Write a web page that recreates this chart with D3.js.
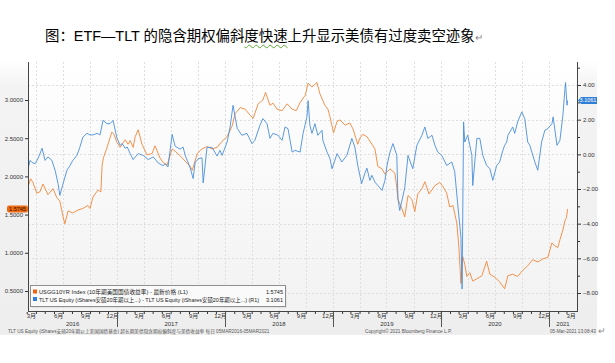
<!DOCTYPE html>
<html>
<head>
<meta charset="utf-8">
<script src="https://cdn.jsdelivr.net/npm/d3@7"></script>
<style>
  body { margin: 0; background: #fff; width: 615px; height: 363px; overflow: hidden; position: relative; }
  #title { position: absolute; left: 45px; top: 28px; white-space: nowrap; font-size: 14.4px; line-height: 17px;
           font-family: "Liberation Sans", "Noto Sans CJK SC", sans-serif; color: #000; }
  #title .wavy { text-decoration: underline wavy #5aa832; text-underline-offset: 3px; text-decoration-thickness: 1px; }
  #title .ret { color: #888; font-size: 10px; }
  svg { position: absolute; left: 0; top: 0; }
</style>
</head>
<body>
<div id="title">图：ETF—TLT 的隐含期权偏斜<span class="wavy">度快速</span>上升显示美债有过度卖空迹象<span class="ret">↵</span></div>
<svg id="chart" width="615" height="363"></svg>
<script>
// USGG10YR (left axis)
var usgDates = ["2016-03-07","2016-03-14","2016-03-22","2016-04-04","2016-04-15","2016-04-25","2016-05-12","2016-05-29",
  "2016-06-11","2016-06-21","2016-07-02","2016-07-08","2016-07-19","2016-08-04","2016-08-21","2016-09-07","2016-09-24",
  "2016-10-01","2016-10-11","2016-10-28","2016-11-07","2016-11-11","2016-11-16","2016-11-27","2016-12-14","2016-12-20",
  "2016-12-31","2017-01-11","2017-01-28","2017-02-07","2017-02-14","2017-02-24","2017-03-03","2017-03-13","2017-03-26",
  "2017-04-12","2017-04-29","2017-05-09","2017-05-26","2017-06-06","2017-06-19","2017-07-06","2017-07-16","2017-08-02",
  "2017-08-19","2017-09-05","2017-09-12","2017-09-29","2017-10-15","2017-11-01","2017-11-18","2017-12-05","2017-12-22",
  "2018-01-08","2018-01-25","2018-02-04","2018-02-21","2018-03-10","2018-03-27","2018-04-06","2018-04-23","2018-05-09",
  "2018-05-18","2018-06-02","2018-06-12","2018-06-26","2018-07-13","2018-07-30","2018-08-16","2018-08-30","2018-09-12",
  "2018-09-29","2018-10-09","2018-10-22","2018-11-08","2018-11-18","2018-12-05","2018-12-15","2018-12-22","2019-01-03",
  "2019-01-15","2019-01-25","2019-02-11","2019-02-27","2019-03-10","2019-03-26","2019-04-02","2019-04-12","2019-04-26",
  "2019-05-13","2019-05-23","2019-06-02","2019-06-16","2019-06-26","2019-07-13","2019-07-30","2019-08-05","2019-08-09",
  "2019-08-22","2019-09-01","2019-09-12","2019-09-25","2019-10-05","2019-10-15","2019-10-29","2019-11-08","2019-11-22",
  "2019-12-12","2019-12-28","2020-01-08","2020-01-21","2020-01-31","2020-02-11","2020-02-24","2020-03-02","2020-03-09",
  "2020-03-15","2020-03-22","2020-03-29","2020-04-08","2020-04-18","2020-05-02","2020-05-19","2020-06-04","2020-06-15",
  "2020-07-02","2020-07-18","2020-08-04","2020-08-15","2020-08-31","2020-09-17","2020-10-04","2020-10-21","2020-11-07",
  "2020-11-24","2020-12-11","2020-12-28","2021-01-11","2021-01-21","2021-01-31","2021-02-07","2021-02-17","2021-02-24",
  "2021-03-01","2021-03-05"];
var usgValues = [1.88,1.97,1.92,1.78,1.80,1.90,1.76,1.84,
  1.72,1.68,1.47,1.38,1.55,1.52,1.56,1.58,1.62,
  1.58,1.73,1.82,1.80,2.15,2.25,2.37,2.58,2.56,
  2.45,2.38,2.48,2.42,2.47,2.38,2.52,2.61,2.42,
  2.28,2.30,2.40,2.24,2.18,2.15,2.36,2.33,2.27,
  2.20,2.13,2.08,2.30,2.36,2.39,2.36,2.38,2.46,
  2.52,2.66,2.82,2.90,2.88,2.80,2.76,2.95,3.00,
  3.10,2.93,2.96,2.88,2.86,2.95,2.88,2.86,2.97,
  3.06,3.22,3.17,3.23,3.08,2.93,2.88,2.78,2.57,
  2.72,2.74,2.67,2.70,2.62,2.42,2.50,2.55,2.52,
  2.42,2.36,2.13,2.10,2.03,2.10,2.04,1.85,1.70,
  1.58,1.47,1.75,1.70,1.54,1.77,1.84,1.93,1.77,
  1.88,1.92,1.87,1.78,1.60,1.62,1.39,1.08,0.60,
  0.95,0.85,0.69,0.74,0.63,0.66,0.70,0.89,0.72,
  0.68,0.62,0.53,0.70,0.72,0.69,0.77,0.83,0.91,
  0.88,0.92,0.94,1.13,1.09,1.07,1.17,1.30,1.42,
  1.46,1.5745];

// TLT implied skew (right axis)
var tltDates = ["2016-03-07","2016-03-12","2016-03-22","2016-03-29","2016-04-08","2016-04-22","2016-05-02","2016-05-12",
  "2016-05-25","2016-06-05","2016-06-15","2016-06-21","2016-07-02","2016-07-15","2016-07-25","2016-08-04","2016-08-18",
  "2016-08-28","2016-09-07","2016-09-21","2016-10-01","2016-10-11","2016-10-25","2016-11-04","2016-11-14","2016-11-27",
  "2016-12-08","2016-12-18","2016-12-31","2017-01-11","2017-01-18","2017-01-28","2017-02-04","2017-02-14","2017-02-24",
  "2017-03-13","2017-03-30","2017-04-16","2017-05-03","2017-05-20","2017-06-06","2017-06-12","2017-06-22","2017-07-06",
  "2017-07-16","2017-08-02","2017-08-12","2017-08-19","2017-08-26","2017-09-05","2017-09-12","2017-09-15","2017-09-22",
  "2017-09-29","2017-10-02","2017-10-15","2017-10-19","2017-11-01","2017-11-18","2017-12-05","2017-12-15","2017-12-22",
  "2018-01-08","2018-01-18","2018-01-28","2018-02-11","2018-02-27","2018-03-16","2018-04-02","2018-04-12","2018-04-29",
  "2018-05-09","2018-05-23","2018-06-02","2018-06-12","2018-06-29","2018-07-13","2018-07-23","2018-08-02","2018-08-16",
  "2018-08-26","2018-09-12","2018-09-22","2018-10-05","2018-10-09","2018-10-15","2018-10-22","2018-11-01","2018-11-11",
  "2018-11-25","2018-11-28","2018-12-12","2018-12-22","2018-12-29","2019-01-15","2019-01-31","2019-02-17","2019-03-06",
  "2019-03-16","2019-03-26","2019-04-02","2019-04-08","2019-04-19","2019-04-26","2019-05-06","2019-05-13","2019-05-23",
  "2019-06-02","2019-06-16","2019-06-26","2019-07-03","2019-07-13","2019-07-23","2019-08-05","2019-08-09","2019-08-15",
  "2019-08-22","2019-09-01","2019-09-12","2019-09-28","2019-10-12","2019-10-29","2019-11-08","2019-11-18","2019-12-02",
  "2019-12-12","2019-12-22","2020-01-04","2020-01-21","2020-02-07","2020-02-17","2020-02-27","2020-03-09","2020-03-13",
  "2020-03-18","2020-03-22","2020-04-01","2020-04-15","2020-04-18","2020-05-02","2020-05-12","2020-05-22","2020-06-04",
  "2020-06-15","2020-06-25","2020-07-08","2020-07-18","2020-07-29","2020-08-04","2020-08-11","2020-08-15","2020-08-28",
  "2020-08-31","2020-09-07","2020-09-17","2020-10-01","2020-10-11","2020-10-21","2020-10-28","2020-11-04","2020-11-14",
  "2020-11-24","2020-12-07","2020-12-18","2020-12-28","2021-01-11","2021-01-15","2021-01-28","2021-02-07","2021-02-17",
  "2021-02-24","2021-02-26","2021-03-03","2021-03-05"];
var tltValues = [-0.73,-0.35,-0.50,-0.54,-0.25,0.35,-0.35,-0.15,
  -0.35,-0.92,-1.69,-2.37,-1.69,-0.92,-0.66,-0.35,-0.06,
  0.42,1.00,1.21,1.12,1.12,1.21,1.12,1.96,1.77,
  1.77,1.96,0.95,0.52,0.62,0.35,0.42,0.04,-0.30,
  0.04,-0.06,-0.30,-0.15,-0.50,-0.66,-0.54,-0.73,1.15,
  0.47,0.30,0.42,-0.06,-0.35,-0.78,-1.21,-1.40,-0.44,
  -0.35,-0.25,-0.20,-1.65,0.40,0.40,-0.10,0.23,-0.06,
  0.71,1.58,2.83,1.50,1.10,1.21,0.62,0.81,1.68,
  2.06,1.77,0.92,1.21,1.10,0.81,1.58,1.48,0.13,
  0.23,0.13,1.21,2.16,3.10,1.68,1.21,1.77,1.10,
  1.39,0.80,0.13,-0.25,-0.83,0.04,-0.44,-0.06,0.92,
  0.42,-0.64,-1.21,-1.69,-1.10,-0.80,-1.50,-1.21,-1.60,
  -1.80,-2.08,-1.50,-0.64,0.13,0.62,-0.06,-2.56,-3.24,
  -2.70,-1.93,-0.06,-0.83,0.52,1.10,1.58,0.92,1.10,
  0.52,0.13,-0.06,-0.64,-0.44,-1.00,-2.85,-4.78,-7.77,
  1.87,0.71,1.10,-0.06,-1.80,0.92,0.92,-0.06,-0.64,
  -0.83,-1.50,-0.64,-0.45,0.23,0.52,0.71,1.10,1.48,
  1.58,1.21,1.87,2.45,2.06,0.71,0.52,0.13,-0.44,
  -0.92,0.71,1.39,1.48,1.77,2.16,0.52,0.81,2.25,
  3.80,4.14,2.83,3.1061];

var leftTicks = [0.5, 1.0, 1.5, 2.0, 2.5, 3.0];
var rightTicks = [-8, -6, -4, -2, 0, 2, 4];
var rightMinor = [-7, -5, -3, -1, 1, 3, 5];
var years = [2016, 2017, 2018, 2019, 2020, 2021];
var lastUsg = "1.5745", lastTlt = "3.1061";
var legendNames = ["USGG10YR Index (10年期美国国债收益率) - 最新价格 (L1)",
  "TLT US Equity (iShares安硕20年期以上...) - TLT US Equity (iShares安硕20年期以上...) (R1)"];
var footLeft = "TLT US Equity (iShares安硕20年期以上美国国债基金) 超长期美债隐含期权偏斜度与美债收益率  每日 05MAR2016-05MAR2021";
var footMid = "Copyright© 2021 Bloomberg Finance L.P.";
var footRight = "05-Mar-2021 13:08:43";

var ORANGE = "#f0873a", BLUE = "#4a8edb";
var FONT = "'Liberation Sans','Noto Sans CJK SC',sans-serif";

var parse = d3.timeParse("%Y-%m-%d");
var usg = usgDates.map(function(d, i){ return {date: parse(d), v: usgValues[i]}; });
var tlt = tltDates.map(function(d, i){ return {date: parse(d), v: tltValues[i]}; });

var plot = {left: 28, right: 577, top: 62, bottom: 311};

var svg = d3.select("#chart");
var defs = svg.append("defs");

// shrink a text's font until it spans the wanted width
function fitText(sel, width) {
  var fs = parseFloat(sel.attr("font-size"));
  var len = sel.node().getComputedTextLength();
  if (len > 0) sel.attr("font-size", (fs * width / len).toFixed(2) + "px");
  return sel;
}

var g1 = defs.append("linearGradient").attr("id", "panelG").attr("x1", 0).attr("y1", 0).attr("x2", 0).attr("y2", 1);
g1.append("stop").attr("offset", "0%").attr("stop-color", "#ffffff");
g1.append("stop").attr("offset", "10%").attr("stop-color", "#f3f3f3");
g1.append("stop").attr("offset", "100%").attr("stop-color", "#eeeeee");
var g2 = defs.append("linearGradient").attr("id", "plotG").attr("x1", 0).attr("y1", 0).attr("x2", 0).attr("y2", 1);
g2.append("stop").attr("offset", "0%").attr("stop-color", "#ffffff");
g2.append("stop").attr("offset", "100%").attr("stop-color", "#f2f2f2");

// panel + plot background
svg.append("rect").attr("x", 0).attr("y", 60).attr("width", 597).attr("height", 275).attr("fill", "url(#panelG)");
svg.append("rect").attr("x", plot.left).attr("y", plot.top).attr("width", plot.right - plot.left)
  .attr("height", plot.bottom - plot.top).attr("fill", "url(#plotG)");

// scales
var x = d3.scaleTime().domain([new Date(2016, 0, 1), new Date(2021, 0, 1)]).range([9, 549]);
var yL = d3.scaleLinear().domain([0.5, 3.0]).range([291, 100]);
var yR = d3.scaleLinear().domain([-8, 4]).range([293, 85]);

// grid
var quarters = d3.timeMonth.every(3).range(new Date(2016, 3, 1), new Date(2021, 3, 1));
svg.append("g").selectAll("line").data(quarters).enter().append("line")
  .attr("x1", function(d){ return Math.round(x(d)) + 0.5; }).attr("x2", function(d){ return Math.round(x(d)) + 0.5; })
  .attr("y1", plot.top).attr("y2", plot.bottom)
  .attr("stroke", "#dedede").attr("stroke-dasharray", "2,2");
svg.append("g").selectAll("line").data(rightTicks).enter().append("line")
  .attr("x1", plot.left).attr("x2", plot.right)
  .attr("y1", function(d){ return Math.round(yR(d)) + 0.5; }).attr("y2", function(d){ return Math.round(yR(d)) + 0.5; })
  .attr("stroke", "#dedede").attr("stroke-dasharray", "2,2");

// lines
var lineL = d3.line().x(function(d){ return x(d.date); }).y(function(d){ return yL(d.v); });
var lineR = d3.line().x(function(d){ return x(d.date); }).y(function(d){ return yR(d.v); });
svg.append("path").datum(usg).attr("d", lineL).attr("fill", "none").attr("stroke", ORANGE).attr("stroke-width", 0.9);
svg.append("path").datum(tlt).attr("d", lineR).attr("fill", "none").attr("stroke", BLUE).attr("stroke-width", 0.9);

// axis lines
svg.append("line").attr("x1", plot.left + 0.5).attr("x2", plot.left + 0.5).attr("y1", plot.top).attr("y2", plot.bottom).attr("stroke", "#444");
svg.append("line").attr("x1", plot.right + 0.5).attr("x2", plot.right + 0.5).attr("y1", plot.top).attr("y2", plot.bottom).attr("stroke", "#444");
svg.append("line").attr("x1", plot.left).attr("x2", plot.right + 1).attr("y1", plot.bottom + 0.5).attr("y2", plot.bottom + 0.5).attr("stroke", "#444");

function styleAxis(g) {
  g.select(".domain").remove();
  g.selectAll("line").attr("stroke", "#333");
  g.selectAll("text").attr("fill", "#333").attr("font-size", "6px").attr("font-family", FONT);
}

// left axis
svg.append("g").attr("transform", "translate(" + plot.left + ",0)")
  .call(d3.axisLeft(yL).tickValues(leftTicks).tickFormat(d3.format(".4f")).tickSize(3).tickPadding(2))
  .call(styleAxis);

// right axis
svg.append("g").attr("transform", "translate(" + (plot.right + 1) + ",0)")
  .call(d3.axisRight(yR).tickValues(rightTicks).tickFormat(d3.format(".2f")).tickSize(3).tickPadding(2))
  .call(styleAxis);
svg.append("g").attr("transform", "translate(" + (plot.right + 1) + ",0)")
  .call(d3.axisRight(yR).tickValues(rightMinor.filter(function(v){ return yR(v) > plot.top; })).tickFormat("").tickSize(2))
  .call(styleAxis);

// bottom axis: month ticks + quarter-month labels
var months = d3.timeMonth.range(new Date(2016, 2, 1), new Date(2021, 3, 1));
svg.append("g").attr("transform", "translate(0," + (plot.bottom + 1) + ")")
  .call(d3.axisBottom(x).tickValues(months).tickFormat("").tickSize(2))
  .call(styleAxis);
var labelMonths = months.filter(function(d){ return d.getMonth() % 3 === 2; })
  .map(function(d){ return new Date(d.getFullYear(), d.getMonth(), 15); });
svg.append("g").attr("transform", "translate(0," + (plot.bottom + 1) + ")")
  .call(d3.axisBottom(x).tickValues(labelMonths).tickFormat(function(d){ return (d.getMonth() + 1) + "月"; }).tickSize(0).tickPadding(2))
  .call(styleAxis);

// year separators and labels
svg.append("g").selectAll("line").data(years.slice(1)).enter().append("line")
  .attr("x1", function(d){ return Math.round(x(new Date(d, 0, 1))) + 0.5; })
  .attr("x2", function(d){ return Math.round(x(new Date(d, 0, 1))) + 0.5; })
  .attr("y1", plot.bottom + 1).attr("y2", plot.bottom + 16).attr("stroke", "#555");
svg.append("g").selectAll("text").data(years).enter().append("text")
  .attr("x", function(d){
    var a = Math.max(x(new Date(d, 0, 1)), plot.left), b = Math.min(x(new Date(d + 1, 0, 1)), plot.right);
    return (a + b) / 2;
  })
  .attr("y", plot.bottom + 15).attr("text-anchor", "middle").attr("font-size", "6px").attr("font-family", FONT)
  .attr("fill", "#333").text(function(d){ return d; });

// last value tags
var ly = yL(+lastUsg);
svg.append("rect").attr("x", 7).attr("y", ly - 3.5).attr("width", 21).attr("height", 7).attr("rx", 2)
  .attr("fill", "#ee6a12");
svg.append("text").attr("x", 17.5).attr("y", ly + 2).attr("text-anchor", "middle").attr("font-size", "5.5px")
  .attr("font-family", FONT).attr("fill", "#2a1200").text(lastUsg);
var ry = yR(+lastTlt);
svg.append("path").attr("d", d3.line()([[plot.right + 1, ry], [plot.right + 4, ry - 3.5], [597, ry - 3.5], [597, ry + 3.5], [plot.right + 4, ry + 3.5]]) + "Z")
  .attr("fill", "#2f7fd6");
svg.append("text").attr("x", 588).attr("y", ry + 2).attr("text-anchor", "middle").attr("font-size", "5.5px")
  .attr("font-family", FONT).attr("fill", "#fff").text(lastTlt);

// legend
var lg = svg.append("g");
var legendWidths = [149, 220];
lg.append("rect").attr("x", 31.5).attr("y", 286.5).attr("width", 255).attr("height", 21).attr("fill", "#bbb").attr("opacity", 0.5);
lg.append("rect").attr("x", 30.5).attr("y", 285.5).attr("width", 255).attr("height", 21).attr("fill", "#fafafa").attr("stroke", "#8f8f8f");
[ORANGE, BLUE].forEach(function(c, i){
  lg.append("rect").attr("x", 33).attr("y", 289.5 + i * 7.5).attr("width", 4).attr("height", 4)
    .attr("fill", i === 0 ? "#f06010" : "#2f7fd6");
  var t = lg.append("text").attr("x", 39).attr("y", 294 + i * 7.5).attr("font-size", "6.4px").attr("font-family", FONT)
    .attr("fill", "#222").text(legendNames[i]);
  fitText(t, legendWidths[i]);
  lg.append("text").attr("x", 283).attr("y", 294 + i * 7.5).attr("font-size", "5.6px").attr("font-family", FONT)
    .attr("text-anchor", "end").attr("fill", "#222").text(i === 0 ? lastUsg : lastTlt);
});

// footer
fitText(svg.append("text").attr("x", 8).attr("y", 333).attr("font-size", "5px").attr("font-family", FONT)
  .attr("fill", "#555").text(footLeft), 262);
fitText(svg.append("text").attr("x", 365).attr("y", 333).attr("font-size", "5px").attr("font-family", FONT)
  .attr("fill", "#555").text(footMid), 87);
fitText(svg.append("text").attr("x", 550).attr("y", 333).attr("font-size", "5px").attr("font-family", FONT)
  .attr("fill", "#555").text(footRight), 46);
svg.append("text").attr("x", 598).attr("y", 334).attr("font-size", "9px").attr("font-family", FONT)
  .attr("fill", "#888").text("↵");
</script>
</body>
</html>
